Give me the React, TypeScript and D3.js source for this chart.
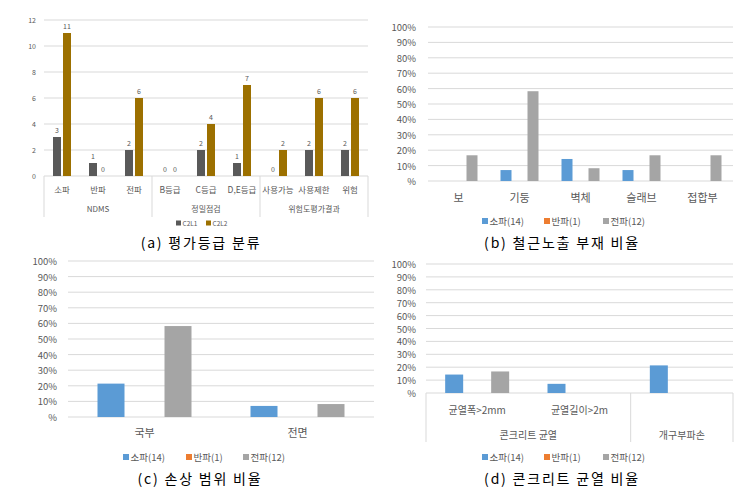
import React from 'react';
import * as d3 from 'd3';

// ---------- Data ----------
const gradeCategories = ['소파', '반파', '전파', 'B등급', 'C등급', 'D,E등급', '사용가능', '사용제한', '위험'];
const gradeGroups = ['NDMS', '정밀점검', '위험도평가결과'];
const gradeGroupSpans = [3, 3, 3];
const gradeSeries = ['C2L1', 'C2L2'];
const gradeC2L1 = [3, 1, 2, 0, 2, 1, 0, 2, 2];
const gradeC2L2 = [11, 0, 6, 0, 4, 7, 2, 6, 6];
const gradeTicks = [0, 2, 4, 6, 8, 10, 12];
const gradeColors = ['#595959', '#9C7000'];

const damageSeries = ['소파(14)', '반파(1)', '전파(12)'];
const damageColors = ['#5B9BD5', '#ED7D31', '#A5A5A5'];
const percentTicks = [0, 10, 20, 30, 40, 50, 60, 70, 80, 90, 100];

const memberCategories = ['보', '기둥', '벽체', '슬래브', '접합부'];
const memberSopa = [0, 7.1, 14.3, 7.1, 0];
const memberBanpa = [0, 0, 0, 0, 0];
const memberJeonpa = [16.7, 58.3, 8.3, 16.7, 16.7];

const rangeCategories = ['국부', '전면'];
const rangeSopa = [21.4, 7.1];
const rangeBanpa = [0, 0];
const rangeJeonpa = [58.3, 8.3];

const crackCategories = ['균열폭>2mm', '균열길이>2m', ''];
const crackGroups = ['콘크리트 균열', '개구부파손'];
const crackGroupSpans = [2, 1];
const crackSopa = [14.3, 7.1, 21.4];
const crackBanpa = [0, 0, 0];
const crackJeonpa = [16.7, 0, 0];

const captions = ['(a) 평가등급 분류', '(b) 철근노출 부재 비율', '(c) 손상 범위 비율', '(d) 콘크리트 균열 비율'];

const FONT = "'Noto Sans CJK KR', 'Noto Sans', sans-serif";
const GRID = '#d9d9d9';
const TXT = '#595959';

type PanelProps = {
  x0: number; x1: number; yTop: number; yBottom: number;
  domainMax: number; ticks: number[]; tickFmt: (v: number) => string; tickFont: number; tickX: number;
  categories: string[]; series: string[]; values: number[][]; colors: string[];
  barWidth: number; barStep: number;
  catLabelY: number; catFont: number;
  groups?: string[]; groupSpans?: number[]; groupLabelY?: number; groupFont?: number; sepBottom?: number;
  dataLabels?: boolean; dataFont?: number;
  legendY: number; legendXs: number[]; legendFont: number; legendSq: number;
};

function Panel(p: PanelProps) {
  const y = d3.scaleLinear().domain([0, p.domainMax]).range([p.yBottom, p.yTop]);
  const x = d3.scaleBand<string>().domain(p.categories.map((c, i) => String(i))).range([p.x0, p.x1]).paddingInner(0).paddingOuter(0);
  const n = p.series.length;
  const total = p.barWidth * n + (p.barStep - p.barWidth) * (n - 1);
  const pad = 1 - p.barWidth / p.barStep;
  const xs = d3.scaleBand<string>().domain(p.series).range([-total / 2, total / 2]).paddingInner(pad).paddingOuter(0);
  const bw = xs.bandwidth();

  const seps: number[] = [];
  const groupCenters: number[] = [];
  if (p.groups && p.groupSpans) {
    let idx = 0;
    seps.push(p.x0);
    p.groupSpans.forEach((s) => {
      const a = x(String(idx))!;
      idx += s;
      const b = idx < p.categories.length ? x(String(idx))! : p.x1;
      seps.push(b);
      groupCenters.push((a + b) / 2);
    });
  }

  return (
    <g fontFamily={FONT}>
      {p.ticks.map((t) => (
        <g key={t}>
          <line x1={p.x0} x2={p.x1} y1={y(t)} y2={y(t)} stroke={GRID} strokeWidth={1} />
          <text x={p.tickX} y={y(t)} textAnchor="end" dominantBaseline="central" fontSize={p.tickFont} fill={TXT}>{p.tickFmt(t)}</text>
        </g>
      ))}
      {seps.map((s, i) => (
        <line key={'s' + i} x1={s} x2={s} y1={p.yBottom} y2={p.sepBottom} stroke={GRID} strokeWidth={1} />
      ))}
      {p.categories.map((c, ci) => {
        const cx = x(String(ci))! + x.bandwidth() / 2;
        return (
          <g key={ci}>
            {p.series.map((s, si) => {
              const v = p.values[si][ci];
              const bx = cx + xs(s)!;
              return (
                <g key={s}>
                  {v > 0 && <rect x={bx} y={y(v)} width={bw} height={p.yBottom - y(v)} fill={p.colors[si]} />}
                  {p.dataLabels && (
                    <text x={bx + bw / 2} y={y(v) - 7} textAnchor="middle" dominantBaseline="central" fontSize={p.dataFont} fill={TXT}>{v}</text>
                  )}
                </g>
              );
            })}
            {c && (
              <text x={cx} y={p.catLabelY} textAnchor="middle" dominantBaseline="central" fontSize={p.catFont} fill={TXT}>{c}</text>
            )}
          </g>
        );
      })}
      {p.groups && p.groups.map((g, gi) => (
        <text key={g} x={groupCenters[gi]} y={p.groupLabelY} textAnchor="middle" dominantBaseline="central" fontSize={p.groupFont} fill={TXT}>{g}</text>
      ))}
      {p.series.map((s, si) => (
        <g key={'l' + s}>
          <rect x={p.legendXs[si]} y={p.legendY - p.legendSq / 2} width={p.legendSq} height={p.legendSq} fill={p.colors[si]} />
          <text x={p.legendXs[si] + p.legendSq + 1.5} y={p.legendY} dominantBaseline="central" fontSize={p.legendFont} fill={TXT}>{s}</text>
        </g>
      ))}
    </g>
  );
}

const pct = (v: number) => (v === 0 ? '%' : `${v}%`);

function Caption({ x, y, text }: { x: number; y: number; text: string }) {
  return (
    <text x={x} y={y} textAnchor="middle" dominantBaseline="central" fontFamily={FONT} fontSize={14} letterSpacing={1.8} fill="#000">{text}</text>
  );
}

export default function App() {
  return (
    <svg width={755} height={493} style={{ position: 'absolute', left: 0, top: 0, background: '#fff' }}>
      <rect width={755} height={493} fill="#fff" />
      <Panel
        x0={44} x1={368} yTop={20} yBottom={176} domainMax={12} ticks={gradeTicks} tickFmt={(v) => String(v)} tickFont={7} tickX={36}
        categories={gradeCategories} series={gradeSeries} values={[gradeC2L1, gradeC2L2]} colors={gradeColors}
        barWidth={8} barStep={10} catLabelY={189} catFont={8.5}
        groups={gradeGroups} groupSpans={gradeGroupSpans} groupLabelY={208} groupFont={8} sepBottom={217}
        dataLabels dataFont={7}
        legendY={223} legendXs={[176, 206]} legendFont={6.5} legendSq={5}
      />
      <Caption x={201} y={242} text={captions[0]} />

      <Panel
        x0={428} x1={733} yTop={27} yBottom={181} domainMax={100} ticks={percentTicks} tickFmt={pct} tickFont={9.5} tickX={416}
        categories={memberCategories} series={damageSeries} values={[memberSopa, memberBanpa, memberJeonpa]} colors={damageColors}
        barWidth={11} barStep={13.5} catLabelY={197} catFont={11}
        legendY={221} legendXs={[482, 544, 603]} legendFont={9.5} legendSq={6}
      />
      <Caption x={562} y={242} text={captions[1]} />

      <Panel
        x0={68} x1={374} yTop={261} yBottom={417} domainMax={100} ticks={percentTicks} tickFmt={pct} tickFont={9.5} tickX={57}
        categories={rangeCategories} series={damageSeries} values={[rangeSopa, rangeBanpa, rangeJeonpa]} colors={damageColors}
        barWidth={27} barStep={33.5} catLabelY={432} catFont={11}
        legendY={457} legendXs={[123, 186, 243]} legendFont={9.5} legendSq={6}
      />
      <Caption x={200} y={478} text={captions[2]} />

      <Panel
        x0={426} x1={733} yTop={264} yBottom={393} domainMax={100} ticks={percentTicks} tickFmt={pct} tickFont={9.5} tickX={416}
        categories={crackCategories} series={damageSeries} values={[crackSopa, crackBanpa, crackJeonpa]} colors={damageColors}
        barWidth={18} barStep={23} catLabelY={409} catFont={10}
        groups={crackGroups} groupSpans={crackGroupSpans} groupLabelY={434} groupFont={10} sepBottom={442}
        legendY={457} legendXs={[482, 544, 603]} legendFont={9.5} legendSq={6}
      />
      <Caption x={562} y={478} text={captions[3]} />
    </svg>
  );
}
